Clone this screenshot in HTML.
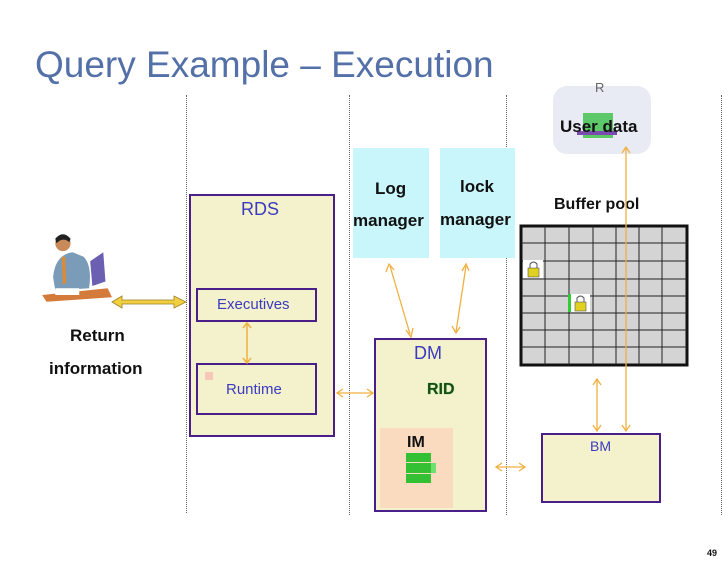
<!DOCTYPE html>
<html><head><meta charset="utf-8"><style>
body{margin:0;width:728px;height:564px;background:#fff;position:relative;overflow:hidden;font-family:"Liberation Sans",sans-serif}
.a{position:absolute}
.box{position:absolute;box-sizing:border-box;border:2px solid #4a1f8a;background:#f4f2cc}
.t{position:absolute;white-space:nowrap}
.b{font-weight:bold;color:#111}
.blue{color:#3b3bc0}
.cyan{position:absolute;background:#c9f6fb}
.dl{position:absolute;width:0;border-left:1px dotted #666}
</style></head><body>
<div class="t" style="left:35px;top:44px;font-size:37px;color:#5470a8">Query Example – Execution</div>
<div class="dl" style="left:186px;top:95px;height:418px"></div>
<div class="dl" style="left:349px;top:95px;height:420px"></div>
<div class="dl" style="left:506px;top:95px;height:420px"></div>
<div class="dl" style="left:721px;top:95px;height:420px"></div>

<!-- person -->
<svg class="a" style="left:40px;top:232px" width="72" height="72" viewBox="0 0 66 64" preserveAspectRatio="none">
<path d="M12 40 Q14 20 30 18 L40 22 Q48 30 45 50 L14 52Z" fill="#7a9cb8"/>
<circle cx="21" cy="10" r="7" fill="#c98a5a"/>
<path d="M14 6 Q21 -2 28 6 L27 9 Q21 4 15 10Z" fill="#222"/>
<path d="M20 22 L23 22 L24 45 L21 47Z" fill="#e08a30"/>
<path d="M46 26 L58 18 L60 44 L48 48Z" fill="#6a5fb0"/>
<path d="M2 56 L62 50 L66 58 L6 62Z" fill="#d47a3a"/>
<rect x="14" y="50" width="22" height="6" fill="#fff"/>
</svg>
<div class="t b" style="left:70px;top:326px;font-size:17px">Return</div>
<div class="t b" style="left:49px;top:359px;font-size:17px">information</div>
<svg class="a" style="left:110px;top:294px" width="78" height="16"><path d="M2 8 L12 2 L12 6 L64 6 L64 2 L76 8 L64 14 L64 10 L12 10 L12 14Z" fill="#f0d040" stroke="#a08020" stroke-width="0.8"/></svg>

<div class="box" style="left:189px;top:194px;width:146px;height:243px"></div>
<div class="t blue" style="left:241px;top:199px;font-size:18px">RDS</div>
<div class="box" style="left:196px;top:288px;width:121px;height:34px"></div>
<div class="t blue" style="left:217px;top:296px;font-size:15px">Executives</div>
<div class="box" style="left:196px;top:363px;width:121px;height:52px"></div>
<div class="a" style="left:205px;top:372px;width:8px;height:8px;background:#f6c8b8"></div>
<div class="t blue" style="left:226px;top:381px;font-size:15px">Runtime</div>
<svg class="a" style="left:240px;top:322px" width="14" height="42"><path d="M7 2 V40 M3 6 L7 1 L11 6 M3 36 L7 41 L11 36" stroke="#f0b040" stroke-width="1.5" fill="none"/></svg>

<div class="cyan" style="left:353px;top:148px;width:76px;height:110px"></div>
<div class="cyan" style="left:440px;top:148px;width:75px;height:110px"></div>
<div class="t b" style="left:375px;top:179px;font-size:17px">Log</div>
<div class="t b" style="left:353px;top:211px;font-size:17px">manager</div>
<div class="t b" style="left:460px;top:177px;font-size:17px">lock</div>
<div class="t b" style="left:440px;top:210px;font-size:17px">manager</div>

<svg class="a" style="left:0;top:0" width="728" height="564">
<g stroke="#f0b040" stroke-width="1.3" fill="none">
<line x1="390" y1="266" x2="410" y2="334"/><path d="M386 272 L389 264 L394 270 M406 330 L411 337 L413 328"/>
<line x1="466" y1="266" x2="456" y2="332"/><path d="M462 271 L466 264 L469 271 M452 326 L456 333 L460 327"/>
<line x1="338" y1="393" x2="372" y2="393"/><path d="M343 389 L337 393 L343 397 M367 389 L373 393 L367 397"/>
<line x1="497" y1="467" x2="524" y2="467"/><path d="M502 463 L496 467 L502 471 M519 463 L525 467 L519 471"/>
<line x1="597" y1="380" x2="597" y2="430"/><path d="M593 385 L597 379 L601 385 M593 425 L597 431 L601 425"/>
</g>
</svg>

<div class="box" style="left:374px;top:338px;width:113px;height:174px"></div>
<div class="t blue" style="left:414px;top:343px;font-size:18px">DM</div>
<div class="t b" style="left:427px;top:381px;font-size:16px;color:#1a4a1a;text-shadow:0 0 1px #3c3">RID</div>
<div class="a" style="left:380px;top:428px;width:73px;height:80px;background:#fbdbbf"></div>
<div class="t b" style="left:407px;top:434px;font-size:16px">IM</div>
<div class="a" style="left:406px;top:453px;width:25px;height:9px;background:#33c033"></div>
<div class="a" style="left:406px;top:463px;width:25px;height:10px;background:#33c033"></div>
<div class="a" style="left:406px;top:474px;width:25px;height:9px;background:#33c033"></div>
<div class="a" style="left:431px;top:463px;width:5px;height:10px;background:#6de06d"></div>

<div class="box" style="left:541px;top:433px;width:120px;height:70px"></div>
<div class="t blue" style="left:590px;top:438px;font-size:14px">BM</div>

<div class="a" style="left:553px;top:86px;width:98px;height:68px;background:#e8eaf4;border-radius:14px"></div>
<div class="t" style="left:595px;top:80px;font-size:13px;color:#666">R</div>
<div class="a" style="left:583px;top:113px;width:30px;height:25px;background:#5cc86a"></div>
<div class="a" style="left:577px;top:131px;width:40px;height:4px;background:#7a4cb0"></div>
<div class="t b" style="left:560px;top:117px;font-size:17px">User data</div>

<div class="t b" style="left:554px;top:196px;font-size:16px">Buffer pool</div>
<svg class="a" style="left:519px;top:224px" width="172" height="144">
<rect x="2" y="2" width="166" height="139" fill="#d4d4d4" stroke="#111" stroke-width="3"/>
<g stroke="#222" stroke-width="1">
<line x1="26" y1="2" x2="26" y2="141"/><line x1="50" y1="2" x2="50" y2="141"/><line x1="74" y1="2" x2="74" y2="141"/><line x1="97" y1="2" x2="97" y2="141"/><line x1="120" y1="2" x2="120" y2="141"/><line x1="143" y1="2" x2="143" y2="141"/>
<line x1="2" y1="19" x2="168" y2="19"/><line x1="2" y1="37" x2="168" y2="37"/><line x1="2" y1="55" x2="168" y2="55"/><line x1="2" y1="72" x2="168" y2="72"/><line x1="2" y1="89" x2="168" y2="89"/><line x1="2" y1="106" x2="168" y2="106"/><line x1="2" y1="123" x2="168" y2="123"/>
</g>
<rect x="4" y="36" width="20" height="18" fill="#fff"/><rect x="9" y="44" width="11" height="9" fill="#e0d020" stroke="#555" stroke-width="0.6"/><path d="M11 44 V40 Q14.5 36 18 40 V44" stroke="#555" fill="none"/>
<rect x="49" y="70" width="22" height="18" fill="#fff"/><rect x="49" y="70" width="3" height="18" fill="#3c3"/><rect x="56" y="78" width="11" height="9" fill="#e0d020" stroke="#555" stroke-width="0.6"/><path d="M58 78 V74 Q61.5 70 65 74 V78" stroke="#555" fill="none"/>
</svg>
<svg class="a" style="left:0;top:0" width="728" height="564">
<g stroke="#f0b040" stroke-width="1.3" fill="none"><line x1="626" y1="148" x2="626" y2="430"/><path d="M622 153 L626 147 L630 153 M622 425 L626 431 L630 425"/></g>
</svg>
<div class="t b" style="left:707px;top:548px;font-size:9px">49</div>
</body></html>
